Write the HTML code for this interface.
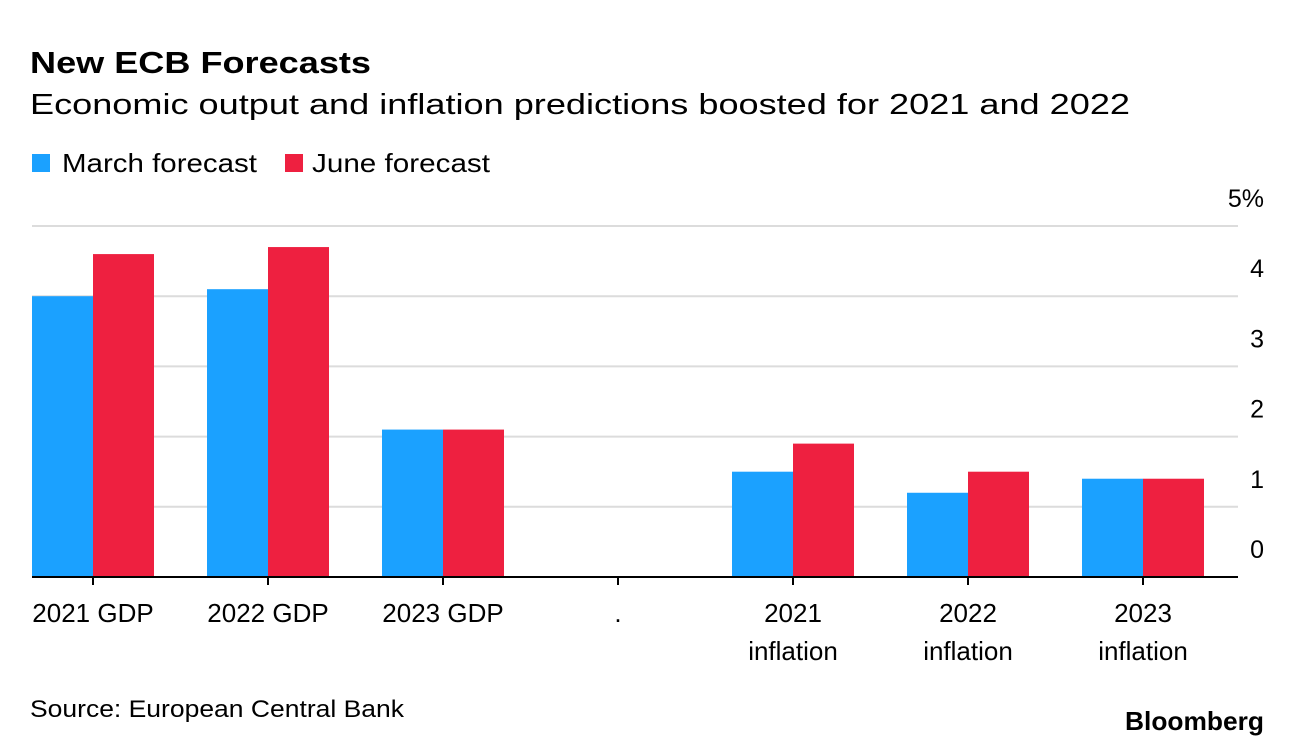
<!DOCTYPE html>
<html><head><meta charset="utf-8"><style>
body{margin:0;background:#fff;width:1292px;height:748px;overflow:hidden;font-family:"Liberation Sans",Arial,sans-serif;}
svg text{font-family:"Liberation Sans",Arial,sans-serif;}
</style></head><body>
<svg width="1292" height="748">
<text x="30" y="73" font-size="31" font-weight="bold" fill="#000" textLength="341" lengthAdjust="spacingAndGlyphs">New ECB Forecasts</text>
<text x="30" y="114" font-size="29" fill="#000" textLength="1100" lengthAdjust="spacingAndGlyphs">Economic output and inflation predictions boosted for 2021 and 2022</text>
<g>
<rect x="32" y="154" width="18" height="18" fill="#1ba1ff"/>
<text x="62" y="172" font-size="26" textLength="195" lengthAdjust="spacingAndGlyphs">March forecast</text>
<rect x="285" y="154" width="18" height="18" fill="#ee2040"/>
<text x="312" y="172" font-size="26" textLength="178" lengthAdjust="spacingAndGlyphs">June forecast</text>
</g>
<g id="grid"></g><g id="bars"></g><g id="xaxis"></g>
<text x="30" y="717" font-size="24" textLength="374" lengthAdjust="spacingAndGlyphs">Source: European Central Bank</text>
<text x="1264" y="730" font-size="26" font-weight="bold" text-anchor="end" textLength="139" lengthAdjust="spacingAndGlyphs">Bloomberg</text>
</svg>
<script>
const categories=[["2021 GDP"],["2022 GDP"],["2023 GDP"],["."],["2021","inflation"],["2022","inflation"],["2023","inflation"]];
const march=[4.0,4.1,2.1,null,1.5,1.2,1.4];
const june=[4.6,4.7,2.1,null,1.9,1.5,1.4];
const ticks=[0,1,2,3,4,5];
const tickLabels=["0","1","2","3","4","5%"];
const NS="http://www.w3.org/2000/svg";
const y0=577,unit=70.2,left=32,right=1238;
const y=v=>y0-v*unit;
const xc=i=>93+i*175;
const bw=61;
function mk(t,a,p){const e=document.createElementNS(NS,t);for(const k in a)e.setAttribute(k,a[k]);p.appendChild(e);return e;}
const g=document.getElementById('grid'),b=document.getElementById('bars'),xa=document.getElementById('xaxis');
ticks.forEach((t,i)=>{
 if(t>0){const l=mk('line',{x1:left,x2:right,y1:y(t),y2:y(t),stroke:'#dcdcdc','stroke-width':2},g);
 
 }
 const tx=mk('text',{x:1264,y:y(t)-19,'font-size':25,'text-anchor':'end'},g);tx.textContent=tickLabels[i];
 
 
});
categories.forEach((c,i)=>{
 if(march[i]!=null){const r=mk('rect',{x:xc(i)-bw,y:y(march[i]),width:bw,height:y0-y(march[i]),fill:'#1ba1ff'},b);
 
 }
 if(june[i]!=null){const r=mk('rect',{x:xc(i),y:y(june[i]),width:bw,height:y0-y(june[i]),fill:'#ee2040'},b);
 
 }
 const tk=mk('line',{x1:xc(i),x2:xc(i),y1:y0,y2:y0+8,stroke:'#000','stroke-width':2},xa);
 
 
 c.forEach((s,j)=>{const t=mk('text',{x:xc(i),y:622+j*38,'font-size':26,'text-anchor':'middle'},xa);t.textContent=s;
 
 });
});
const base=mk('line',{x1:left,x2:right,y1:y0,y2:y0,stroke:'#000','stroke-width':2},xa);


</script>
</body></html>
